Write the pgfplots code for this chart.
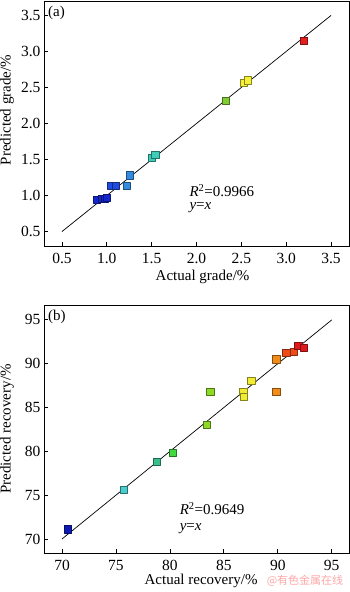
\documentclass[border=0pt]{standalone}
\usepackage{pgfplots}
\pgfplotsset{compat=1.18}
\usepackage{fontspec}
\setmainfont{Liberation Serif}
\newfontfamily\cjk{Noto Sans CJK SC}
\definecolor{c1}{rgb}{0.08,0.15,0.80}
\definecolor{c2}{rgb}{0.12,0.30,0.88}
\definecolor{c3}{rgb}{0.20,0.55,0.88}
\definecolor{c4}{rgb}{0.25,0.80,0.72}
\definecolor{c5}{rgb}{0.50,0.80,0.20}
\definecolor{c6}{rgb}{0.96,0.94,0.22}
\definecolor{c7}{rgb}{0.90,0.12,0.12}
\definecolor{d1}{rgb}{0.05,0.10,0.70}
\definecolor{d2}{rgb}{0.30,0.80,0.80}
\definecolor{d3}{rgb}{0.22,0.75,0.55}
\definecolor{d4}{rgb}{0.25,0.85,0.25}
\definecolor{d5}{rgb}{0.55,0.85,0.15}
\definecolor{d6}{rgb}{0.95,0.92,0.20}
\definecolor{d7}{rgb}{0.95,0.55,0.10}
\definecolor{d8}{rgb}{0.93,0.30,0.10}
\definecolor{d9}{rgb}{0.88,0.10,0.12}
\tikzset{sq/.style 2 args={mark=square*, fill=#1, draw=#2, mark size=3.6pt, line width=0.6pt, line join=round}}
\pgfplotsset{
  mystyle/.style={
    scale only axis, width=305pt,
    tick pos=left, tick align=inside,
    major tick length=4pt,
    axis line style={line width=0.8pt},
    every tick/.style={black, line width=0.8pt},
    tick label style={font=\fontsize{15.5}{17}\selectfont},
    xticklabel shift=4pt,
    label style={font=\fontsize{15}{17}\selectfont},
    /pgf/number format/assume math mode=true,
  },
}
\begin{document}
\begin{tikzpicture}[x=1pt,y=1pt]
\useasboundingbox (0,0) rectangle (350,592);
\begin{axis}[mystyle,
  at={(44pt,346pt)}, anchor=south west, height=245pt,
  xmin=0.3, xmax=3.7, ymin=0.3, ymax=3.7,
  xtick={0.5,1.0,...,3.5}, ytick={0.5,1.0,...,3.5},
  xticklabel style={/pgf/number format/.cd, fixed, fixed zerofill, precision=1},
  yticklabel style={/pgf/number format/.cd, fixed, fixed zerofill, precision=1},
  xlabel={Actual grade/\%}, ylabel={Predicted grade/\%},
  xlabel style={at={(axis description cs:0.52,-0.125)}, anchor=center},
  ylabel style={at={(axis description cs:-0.121,0.555)}, anchor=center},
]
\addplot[scatter, only marks, point meta=explicit symbolic,
  scatter/classes={
    c1={sq={c1}{c1!55!black}},
    c2={sq={c2}{c2!55!black}},
    c3={sq={c3}{c3!55!black}},
    c4={sq={c4}{c4!55!black}},
    c5={sq={c5}{c5!55!black}},
    c6={sq={c6}{c6!55!black}},
    c7={sq={c7}{c7!55!black}}}]
  table[meta=c] {
x y c
0.89 0.94 c1
0.95 0.95 c1
0.98 0.96 c1
1.00 0.97 c1
1.05 1.13 c2
1.10 1.13 c2
1.22 1.13 c3
1.26 1.28 c3
1.50 1.52 c4
1.54 1.57 c4
2.33 2.32 c5
2.53 2.56 c6
2.57 2.60 c6
3.20 3.15 c7
};
\addplot[sharp plot, no marks, black, line width=0.7pt] coordinates {(0.5,0.5) (3.5,3.5)};
\node[anchor=north west, font=\fontsize{15}{17}\selectfont, inner sep=1pt] at (axis description cs:0.01,0.985) {(a)};
\node[anchor=base west, font=\fontsize{15}{17}\selectfont, inner sep=0pt] at (axis cs:1.92,0.99) {\textit{R}\textsuperscript{2}=0.9966};
\node[anchor=base west, font=\fontsize{15}{17}\selectfont, inner sep=0pt] at (axis cs:1.92,0.80) {\textit{y}=\textit{x}};
\end{axis}
\begin{axis}[mystyle,
  at={(44pt,39pt)}, anchor=south west, height=248pt,
  xmin=68.33, xmax=96.6, ymin=68.4, ymax=96.7,
  xtick={70,75,...,95}, ytick={70,75,...,95},
  xlabel={Actual recovery/\%}, ylabel={Predicted recovery/\%},
  xlabel style={at={(axis description cs:0.515,-0.113)}, anchor=center},
  ylabel style={at={(axis description cs:-0.121,0.50)}, anchor=center},
]
\addplot[scatter, only marks, point meta=explicit symbolic,
  scatter/classes={
    d1={sq={d1}{d1!55!black}},
    d2={sq={d2}{d2!55!black}},
    d3={sq={d3}{d3!55!black}},
    d4={sq={d4}{d4!55!black}},
    d5={sq={d5}{d5!55!black}},
    d6={sq={d6}{d6!55!black}},
    d7={sq={d7}{d7!55!black}},
    d8={sq={d8}{d8!55!black}},
    d9={sq={d9}{d9!55!black}}}]
  table[meta=c] {
x y c
70.55 71.10 d1
75.70 75.60 d2
78.80 78.85 d3
80.25 79.80 d4
83.40 83.00 d5
83.75 86.80 d5
86.80 86.80 d6
86.87 86.23 d6
87.55 88.03 d6
89.86 86.80 d7
89.86 90.50 d7
90.78 91.25 d8
91.46 91.32 d8
91.90 92.03 d9
92.38 91.84 d9
};
\addplot[sharp plot, no marks, black, line width=0.7pt] coordinates {(70,70) (95,95)};
\node[anchor=north west, font=\fontsize{15}{17}\selectfont, inner sep=1pt] at (axis description cs:0.01,0.985) {(b)};
\node[anchor=base west, font=\fontsize{15}{17}\selectfont, inner sep=0pt] at (axis cs:80.9,72.75) {\textit{R}\textsuperscript{2}=0.9649};
\node[anchor=base west, font=\fontsize{15}{17}\selectfont, inner sep=0pt] at (axis cs:80.9,70.95) {\textit{y}=\textit{x}};
\end{axis}
\node[anchor=center, text=red!35, font=\cjk\fontsize{11}{12}\selectfont, inner sep=0pt] at (305pt,11pt) {@有色金属在线};
\end{tikzpicture}
\end{document}
